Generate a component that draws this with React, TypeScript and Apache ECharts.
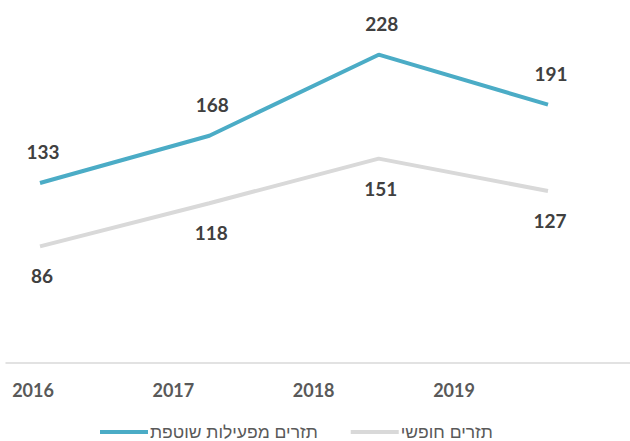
import React, { useEffect, useRef } from "react";
import * as echarts from "echarts";

const years = ["2016", "2017", "2018", "2019"];
const ongoingFlow = [133, 168, 228, 191];
const freeFlow = [86, 118, 151, 127];
const seriesNames = ["תזרים מפעילות שוטפת", "תזרים חופשי"];
const colors = ["#4BACC6", "#D9D9D9"];

export default function App() {
  const ref = useRef<HTMLDivElement>(null);
  useEffect(() => {
    if (!ref.current) return;
    const chart = echarts.init(ref.current, null, { renderer: "svg" });
    const labelFont = {
      fontFamily: "Lato, 'Open Sans', sans-serif",
      fontWeight: "bold" as const,
      fontSize: 19,
      color: "#404040",
    };
    chart.setOption({
      animation: false,
      grid: [
        { left: 40, right: 82, top: 25, bottom: 78.5 },
        { left: 33, right: 176, top: 25, bottom: 78.5 },
        { left: 6, right: 0, top: 25, bottom: 78.5 },
      ],
      xAxis: [
        {
          type: "category",
          gridIndex: 0,
          data: years,
          boundaryGap: false,
          axisLine: { show: false },
          axisTick: { show: false },
          axisLabel: { show: false },
        },
        {
          type: "category",
          gridIndex: 1,
          data: years,
          boundaryGap: false,
          axisLine: { show: false },
          axisTick: { show: false },
          axisLabel: {
            margin: 18,
            fontFamily: "Lato, 'Open Sans', sans-serif",
            fontWeight: "bold",
            fontSize: 18,
            color: "#595959",
          },
        },
        {
          type: "category",
          gridIndex: 2,
          data: years,
          axisLine: { show: true, lineStyle: { color: "#d9d9d9", width: 1.5 } },
          axisTick: { show: false },
          axisLabel: { show: false },
        },
      ],
      yAxis: [
        { type: "value", gridIndex: 0, min: 0, max: 250, show: false },
        { type: "value", gridIndex: 1, min: 0, max: 250, show: false },
        { type: "value", gridIndex: 2, min: 0, max: 250, show: false },
      ],
      legend: {
        top: 423,
        left: 100,
        padding: 0,
        itemGap: 33,
        itemWidth: 48,
        itemHeight: 4,
        data: [
          { name: seriesNames[0], icon: "rect", itemStyle: { color: colors[0], opacity: 1 } },
          { name: seriesNames[1], icon: "rect", itemStyle: { color: colors[1], opacity: 1 } },
        ],
        textStyle: {
          fontFamily: "'Liberation Sans', 'DejaVu Sans', sans-serif",
          fontSize: 17.5,
          color: "#595959",
          padding: [0, 0, 0, -3],
        },
      },
      series: [
        {
          name: seriesNames[0],
          type: "line",
          xAxisIndex: 0,
          yAxisIndex: 0,
          data: ongoingFlow,
          symbol: "circle",
          symbolSize: 0.1,
          showSymbol: true,
          color: colors[0],
          lineStyle: { width: 4, color: colors[0] },
          label: { show: true, position: "top", distance: 22, offset: [3, 0], ...labelFont },
        },
        {
          name: seriesNames[1],
          type: "line",
          xAxisIndex: 0,
          yAxisIndex: 0,
          data: freeFlow,
          symbol: "circle",
          symbolSize: 0.1,
          showSymbol: true,
          color: colors[1],
          lineStyle: { width: 4, color: colors[1] },
          label: { show: true, position: "bottom", distance: 20, offset: [2, 0], ...labelFont },
        },
      ],
    });
    return () => chart.dispose();
  }, []);
  return (
    <div
      ref={ref}
      style={{ position: "absolute", left: 0, top: 0, width: 630, height: 441 }}
    />
  );
}
